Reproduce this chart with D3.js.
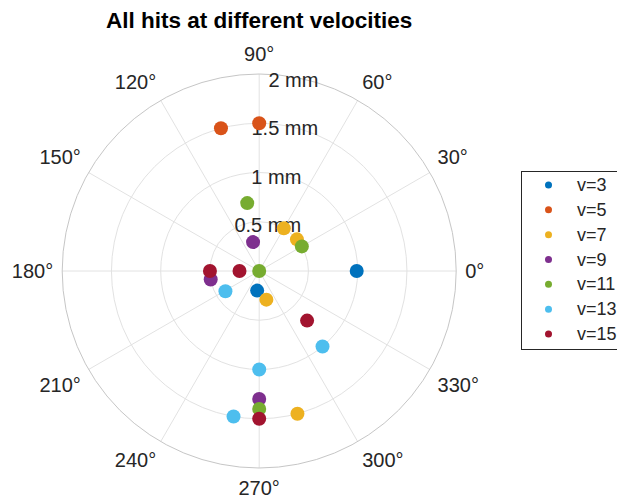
<!DOCTYPE html>
<html>
<head>
<meta charset="utf-8">
<script src="https://cdn.jsdelivr.net/npm/d3@7"></script>
<style>
  body { margin: 0; background: #fff; }
  svg { display: block; font-family: "Liberation Sans", Arial, sans-serif; }
</style>
</head>
<body>
<div id="chart"></div>
<script>
// series names and colours (MATLAB default order)
const seriesNames = ['v=3', 'v=5', 'v=7', 'v=9', 'v=11', 'v=13', 'v=15'];
const seriesColors = ['#0072BD', '#D95319', '#EDB120', '#7E2F8E', '#77AC30', '#4DBEEE', '#A2142F'];

// hit angles (deg) and radii (mm)
const thetaV3 = [0, 264];
const rV3 = [0.99, 0.2];
const thetaV5 = [90, 105];
const rV5 = [1.5, 1.5];
const thetaV7 = [60, 40, 284, 285];
const rV7 = [0.5, 0.5, 0.3, 1.5];
const thetaV9 = [102, 190, 270];
const rV9 = [0.3, 0.5, 1.3];
const thetaV11 = [100, 30, 0, 270];
const rV11 = [0.7, 0.5, 0, 1.4];
const thetaV13 = [211, 310, 270, 260];
const rV13 = [0.4, 1.0, 1.0, 1.5];
const thetaV15 = [180, 180, 314, 270];
const rV15 = [0.2, 0.5, 0.7, 1.5];

const thetaTicks = [0, 30, 60, 90, 120, 150, 180, 210, 240, 270, 300, 330];
const rTicks = [0.5, 1, 1.5, 2];
const rTickLabels = ['0.5 mm', '1 mm', '1.5 mm', '2 mm'];

const allTheta = [thetaV3, thetaV5, thetaV7, thetaV9, thetaV11, thetaV13, thetaV15];
const allR = [rV3, rV5, rV7, rV9, rV11, rV13, rV15];

const width = 617, height = 502;
const cx = 259.2, cy = 271, R = 197;
const textColor = '#262626';
const axFont = 20;

const svg = d3.select('#chart').append('svg')
  .attr('width', width)
  .attr('height', height);

// radius scale (mm -> px) and angle helpers
const r = d3.scaleLinear().domain([0, 2]).range([0, R]);
const rad = d => d * Math.PI / 180;
const px = (t, v) => cx + r(v) * Math.cos(rad(t));
const py = (t, v) => cy - r(v) * Math.sin(rad(t));

const g = svg.append('g');

// spokes
g.selectAll('.spoke').data(thetaTicks)
  .enter().append('line')
  .attr('x1', cx).attr('y1', cy)
  .attr('x2', d => px(d, 2)).attr('y2', d => py(d, 2))
  .attr('stroke', '#e2e2e2').attr('stroke-width', 1);

// rings
g.selectAll('.ring').data(rTicks)
  .enter().append('circle')
  .attr('cx', cx).attr('cy', cy)
  .attr('r', d => r(d))
  .attr('fill', 'none')
  .attr('stroke', d => d === 2 ? '#c6c6c6' : '#e2e2e2')
  .attr('stroke-width', 1);

// theta labels - box corner touches a circle just outside the axis
const labelGap = 9, boxH = 22;
const thLabels = g.selectAll('.thlabel').data(thetaTicks)
  .enter().append('text')
  .attr('font-size', axFont)
  .attr('fill', textColor)
  .attr('text-anchor', 'middle')
  .attr('dominant-baseline', 'central')
  .text(d => d + '°');

thLabels.each(function(d) {
  const w = this.getComputedTextLength();
  const c = Math.cos(rad(d)), s = Math.sin(rad(d));
  const sx = Math.abs(c) < 0.01 ? 0 : Math.sign(c);
  const sy = Math.abs(s) < 0.01 ? 0 : Math.sign(s);
  const x = cx + (R + labelGap) * c + sx * w / 2;
  const y = cy - (R + labelGap) * s - sy * boxH / 2;
  d3.select(this).attr('x', x).attr('y', y);
});

// r tick labels along 80 deg
g.selectAll('.rlabel').data(rTicks)
  .enter().append('text')
  .attr('x', d => px(80, d))
  .attr('y', d => py(80, d) + 3)
  .attr('font-size', axFont)
  .attr('fill', textColor)
  .attr('text-anchor', 'middle')
  .attr('dominant-baseline', 'central')
  .text((d, i) => rTickLabels[i]);

// points, later series drawn on top
seriesNames.forEach((name, i) => {
  const pts = allTheta[i].map((t, j) => ({ t: t, v: allR[i][j] }));
  g.selectAll('.pt' + i).data(pts)
    .enter().append('circle')
    .attr('cx', d => px(d.t, d.v))
    .attr('cy', d => py(d.t, d.v))
    .attr('r', 7)
    .attr('fill', seriesColors[i]);
});

// title
svg.append('text')
  .attr('x', cx)
  .attr('y', 28)
  .attr('text-anchor', 'middle')
  .attr('font-size', 22.5)
  .attr('font-weight', 'bold')
  .attr('fill', '#000')
  .text('All hits at different velocities');

// legend
const legend = svg.append('g');
legend.append('rect')
  .attr('x', 521.5).attr('y', 171.5)
  .attr('width', 120).attr('height', 178)
  .attr('fill', '#fff')
  .attr('stroke', '#262626').attr('stroke-width', 1);

const ly = d3.scalePoint().domain(seriesNames).range([185, 334]);
legend.selectAll('.ldot').data(seriesNames)
  .enter().append('circle')
  .attr('cx', 548.5)
  .attr('cy', d => ly(d))
  .attr('r', 3.5)
  .attr('fill', (d, i) => seriesColors[i]);
legend.selectAll('.ltext').data(seriesNames)
  .enter().append('text')
  .attr('x', 577)
  .attr('y', d => ly(d))
  .attr('dominant-baseline', 'central')
  .attr('font-size', 18)
  .attr('fill', textColor)
  .text(d => d);
</script>
</body>
</html>
